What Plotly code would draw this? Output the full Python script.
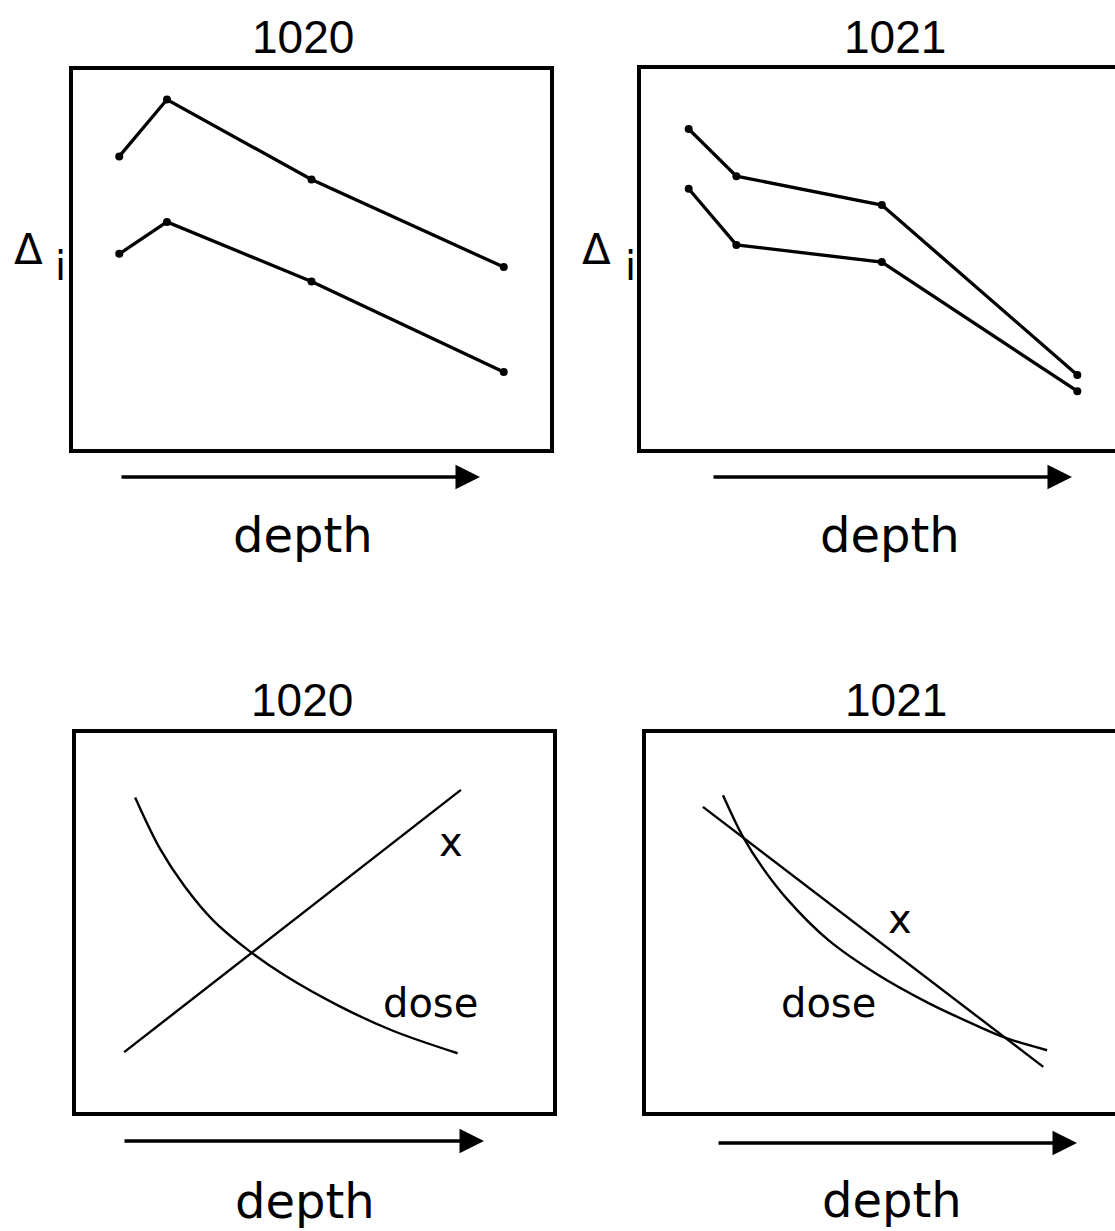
import plotly.graph_objects as go

W, H = 1115, 1231

# ---- data (arbitrary units: depth along x, response along y) ----
# Panel 1020, Delta_i profiles
depth_1020 = [0.97, 1.97, 5.0, 9.03]
delta_1020_upper = [7.72, 9.22, 7.11, 4.80]
delta_1020_lower = [5.15, 5.99, 4.42, 2.03]

# Panel 1021, Delta_i profiles
depth_1021 = [1.0, 2.0, 5.05, 9.15]
delta_1021_upper = [8.42, 7.18, 6.42, 1.95]
delta_1021_lower = [6.85, 5.37, 4.92, 1.52]

# Panel 1020, x and dose versus depth
x_depth_1020 = [1.01, 8.07]
x_1020 = [1.58, 8.50]
dose_depth_1020 = [1.24, 1.76, 2.28, 2.88, 3.63, 4.38, 5.51, 6.63, 8.00]
dose_1020 = [8.30, 6.95, 5.95, 5.05, 4.25, 3.60, 2.80, 2.15, 1.55]

# Panel 1021, x and dose versus depth
x_depth_1021 = [1.19, 8.31]
x_1021 = [8.05, 1.19]
dose_depth_1021 = [1.61, 2.03, 2.43, 2.97, 3.81, 4.85, 5.90, 6.95, 7.51, 8.39]
dose_1021 = [8.36, 7.26, 6.46, 5.59, 4.54, 3.62, 2.88, 2.26, 1.96, 1.63]

titles = ["1020", "1021", "1020", "1021"]
axis_label = "depth"


def fx(p):
    return p / W


def fy(p):
    return 1 - p / H


fig = go.Figure()

# panel frames in pixels: (left, right, top, bottom), x range max, closed right side
panels = [
    dict(ax="", box=(73, 550, 70, 449), xmax=10.0, closed=True),
    dict(ax="2", box=(641, 1115, 69, 449), xmax=9.94, closed=False),
    dict(ax="3", box=(76, 553, 733, 1112), xmax=10.0, closed=True),
    dict(ax="4", box=(646, 1115, 733, 1112), xmax=9.81, closed=False),
]

for p in panels:
    l, r, t, b = p["box"]
    common = dict(showgrid=False, zeroline=False, showticklabels=False, ticks="",
                  showline=True, linecolor="black", linewidth=3.5, fixedrange=True)
    fig.update_layout(**{
        "xaxis" + p["ax"]: dict(domain=[fx(l), fx(r)], range=[0, p["xmax"]],
                                mirror=True, anchor="y" + p["ax"], **common),
        "yaxis" + p["ax"]: dict(domain=[fy(b), fy(t)], range=[0, 10],
                                mirror=p["closed"], anchor="x" + p["ax"], **common),
    })

profile_style = dict(mode="lines+markers", line=dict(color="black", width=3.3),
                     marker=dict(color="black", size=8), showlegend=False,
                     hoverinfo="skip")
fig.add_trace(go.Scatter(x=depth_1020, y=delta_1020_upper, xaxis="x", yaxis="y", **profile_style))
fig.add_trace(go.Scatter(x=depth_1020, y=delta_1020_lower, xaxis="x", yaxis="y", **profile_style))
fig.add_trace(go.Scatter(x=depth_1021, y=delta_1021_upper, xaxis="x2", yaxis="y2", **profile_style))
fig.add_trace(go.Scatter(x=depth_1021, y=delta_1021_lower, xaxis="x2", yaxis="y2", **profile_style))

curve_style = dict(mode="lines", line=dict(color="black", width=2.4, shape="spline", smoothing=1.0),
                   showlegend=False, hoverinfo="skip")
fig.add_trace(go.Scatter(x=x_depth_1020, y=x_1020, xaxis="x3", yaxis="y3", **curve_style))
fig.add_trace(go.Scatter(x=dose_depth_1020, y=dose_1020, xaxis="x3", yaxis="y3", **curve_style))
fig.add_trace(go.Scatter(x=x_depth_1021, y=x_1021, xaxis="x4", yaxis="y4", **curve_style))
fig.add_trace(go.Scatter(x=dose_depth_1021, y=dose_1021, xaxis="x4", yaxis="y4", **curve_style))

ann = []
sans = "DejaVu Sans"

# panel titles
for (cx, cy), title in zip([(303, 37), (895, 37), (302, 700), (896, 700)], titles):
    ann.append(dict(x=fx(cx), y=fy(cy), xref="paper", yref="paper", text=title,
                    showarrow=False, xanchor="center", yanchor="middle",
                    font=dict(family="Liberation Sans", size=46, color="black")))

# Delta_i axis labels
for dx, ix in [(28, 60), (597, 631)]:
    ann.append(dict(x=fx(dx), y=fy(250), xref="paper", yref="paper", text="Δ",
                    showarrow=False, xanchor="center", yanchor="middle",
                    font=dict(family=sans, size=42, color="black")))
    ann.append(dict(x=fx(ix), y=fy(266), xref="paper", yref="paper", text="i",
                    showarrow=False, xanchor="center", yanchor="middle",
                    font=dict(family=sans, size=40, color="black")))

# depth labels and arrows
for cx, cy, x0, x1, ya in [(303, 535, 120, 480, 477), (890, 535, 712, 1072, 477),
                           (305, 1201, 123, 484, 1141), (892, 1200, 717, 1077, 1143)]:
    ann.append(dict(x=fx(cx), y=fy(cy), xref="paper", yref="paper", text=axis_label,
                    showarrow=False, xanchor="center", yanchor="middle",
                    font=dict(family=sans, size=48, color="black")))
    ann.append(dict(x=fx(x1), y=fy(ya), ax=-(x1 - x0), ay=0, xref="paper", yref="paper",
                    axref="pixel", ayref="pixel", text="", showarrow=True,
                    arrowhead=2, arrowsize=1.4, arrowwidth=3.5, arrowcolor="black",
                    standoff=0, startstandoff=0))

# curve labels
for cx, cy, txt in [(451, 842, "x"), (430, 1003, "dose"), (900, 919, "x"), (828, 1003, "dose")]:
    ann.append(dict(x=fx(cx), y=fy(cy), xref="paper", yref="paper", text=txt,
                    showarrow=False, xanchor="center", yanchor="middle",
                    font=dict(family=sans, size=40, color="black")))

fig.update_layout(
    width=W, height=H, margin=dict(l=0, r=0, t=0, b=0),
    paper_bgcolor="white", plot_bgcolor="white",
    annotations=ann, showlegend=False,
)

fig.write_html("out.html", config={"displayModeBar": False})
